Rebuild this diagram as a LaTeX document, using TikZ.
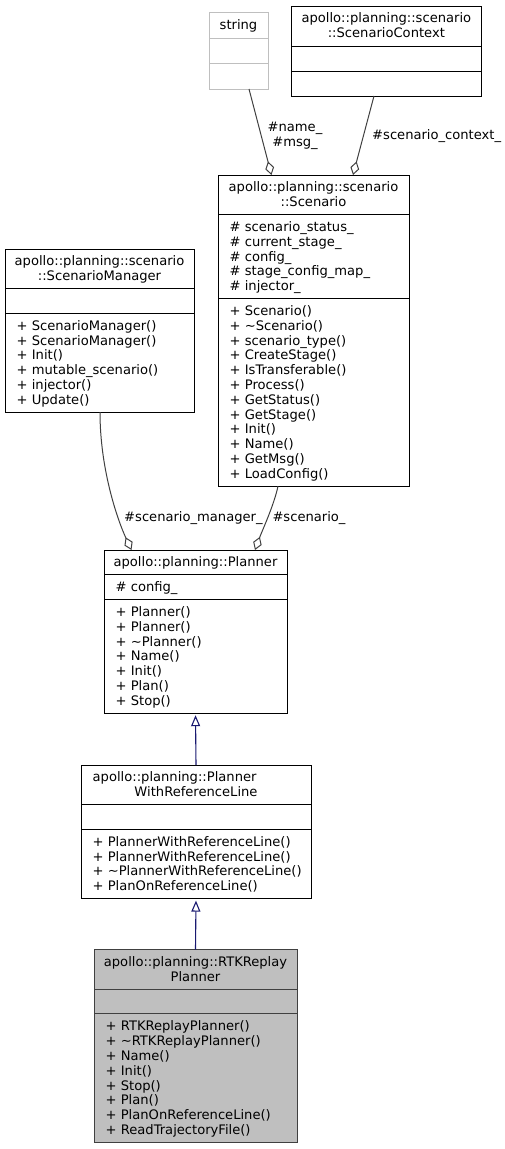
\documentclass[tikz,border=0pt]{standalone}
\usepackage{fontspec}
\setmainfont{DejaVu Sans}
\usepackage{tikz}
\usetikzlibrary{arrows.meta}
\definecolor{dxUse}{HTML}{404040}
\definecolor{dxBase}{HTML}{191970}
\definecolor{dxExtern}{HTML}{BFBFBF}
\definecolor{dxCurrent}{HTML}{BFBFBF}
\definecolor{dxCurrentLine}{HTML}{404040}
\tikzset{
  dx diagram/.style={font=\fontsize{13.1}{14.8}\selectfont, text=black},
  dx class/.style={draw=black, fill=white, line width=1pt,
    inner sep=0pt, outer sep=0pt},
  dx extern/.style={dx class, draw=dxExtern},
  dx current/.style={dx class, draw=dxCurrentLine, fill=dxCurrent},
  dx sep/.style={line width=1pt},
  dx text/.style={inner sep=0pt, anchor=base west},
  dx head/.style={inner sep=0pt, anchor=base},
  dx usage/.style={-{Diamond[open,length=14pt,width=9pt]}, draw=dxUse,
    line width=1pt},
  dx inherit/.style={-{Triangle[open,length=11pt,width=9pt]}, draw=dxBase,
    line width=1.1pt, shorten >=2pt},
  dx label/.style={inner sep=0pt}
}

\begin{document}
\begin{tikzpicture}[dx diagram,x=1pt,y=-1pt]
\useasboundingbox (0,0) rectangle (505,1149);

% string
\node[dx extern,minimum width=59pt,minimum height=76.3pt] (str) at (238.5,50.85) {};
\draw[dx sep,dxExtern] (str.west |- 0,38.3) -- (str.east |- 0,38.3);
\draw[dx sep,dxExtern] (str.west |- 0,63.3) -- (str.east |- 0,63.3);
\node[dx head] (str-h) at (238.5,29.6) {string};

% ScenarioContext
\node[dx class,minimum width=189.3pt,minimum height=90pt] (ctx) at (386.35,51) {};
\draw[dx sep] (ctx.west |- 0,46) -- (ctx.east |- 0,46);
\draw[dx sep] (ctx.west |- 0,71) -- (ctx.east |- 0,71);
\node[dx head] (ctx-h1) at (386.35,22.9) {apollo::planning::scenario};
\node[dx head] (ctx-h2) at (386.35,37.7) {::ScenarioContext};

% Scenario
\node[dx class,minimum width=191pt,minimum height=311.2pt] (scen) at (313.5,330.6) {};
\draw[dx sep] (scen.west |- 0,214.6) -- (scen.east |- 0,214.6);
\draw[dx sep] (scen.west |- 0,298.6) -- (scen.east |- 0,298.6);
\node[dx head] (scen-h1) at (313.5,191.9) {apollo::planning::scenario};
\node[dx head] (scen-h2) at (313.5,206.7) {::Scenario};
\foreach \a [count=\i] in {scenario\_status\_, current\_stage\_, config\_,
    stage\_config\_map\_, injector\_}
  \node[dx text] (scen-a\i) at (229.5,231.5+14.8*\i-14.8) {\# \a};
\foreach \m [count=\i] in {Scenario(), \textasciitilde Scenario(), scenario\_type(),
    CreateStage(), IsTransferable(), Process(), GetStatus(), GetStage(),
    Init(), Name(), GetMsg(), LoadConfig()}
  \node[dx text] (scen-m\i) at (229.5,315.5+14.8*\i-14.8) {+ \m};

% ScenarioManager
\node[dx class,minimum width=189pt,minimum height=163.2pt] (mgr) at (99.5,330.6) {};
\draw[dx sep] (mgr.west |- 0,288.6) -- (mgr.east |- 0,288.6);
\draw[dx sep] (mgr.west |- 0,313.4) -- (mgr.east |- 0,313.4);
\node[dx head] (mgr-h1) at (99.5,265.9) {apollo::planning::scenario};
\node[dx head] (mgr-h2) at (99.5,280.7) {::ScenarioManager};
\foreach \m [count=\i] in {ScenarioManager(), ScenarioManager(), Init(),
    mutable\_scenario(), injector(), Update()}
  \node[dx text] (mgr-m\i) at (16.5,330.3+14.8*\i-14.8) {+ \m};

% Planner
\node[dx class,minimum width=183pt,minimum height=163.2pt] (plan) at (195.5,631.6) {};
\draw[dx sep] (plan.west |- 0,574.8) -- (plan.east |- 0,574.8);
\draw[dx sep] (plan.west |- 0,599.6) -- (plan.east |- 0,599.6);
\node[dx head] (plan-h) at (195.5,566.9) {apollo::planning::Planner};
\node[dx text] (plan-a1) at (115.5,591.7) {\# config\_};
\foreach \m [count=\i] in {Planner(), Planner(), \textasciitilde Planner(), Name(),
    Init(), Plan(), Stop()}
  \node[dx text] (plan-m\i) at (115.5,616.5+14.8*\i-14.8) {+ \m};

% PlannerWithReferenceLine
\node[dx class,minimum width=230pt,minimum height=133.6pt] (prl) at (196,831.8) {};
\draw[dx sep] (prl.west |- 0,804.6) -- (prl.east |- 0,804.6);
\draw[dx sep] (prl.west |- 0,829.4) -- (prl.east |- 0,829.4);
\node[dx text] (prl-h1) at (92.5,781.9) {apollo::planning::Planner};
\node[dx head] (prl-h2) at (196,796.7) {WithReferenceLine};
\foreach \m [count=\i] in {PlannerWithReferenceLine(), PlannerWithReferenceLine(),
    \textasciitilde PlannerWithReferenceLine(), PlanOnReferenceLine()}
  \node[dx text] (prl-m\i) at (92.5,846.3+14.8*\i-14.8) {+ \m};

% RTKReplayPlanner
\node[dx current,minimum width=203pt,minimum height=192.8pt] (rtk) at (195.5,1045.9) {};
\draw[dx sep,dxCurrentLine] (rtk.west |- 0,989.1) -- (rtk.east |- 0,989.1);
\draw[dx sep,dxCurrentLine] (rtk.west |- 0,1013.9) -- (rtk.east |- 0,1013.9);
\node[dx head] (rtk-h1) at (195.5,966.4) {apollo::planning::RTKReplay};
\node[dx head] (rtk-h2) at (195.5,981.2) {Planner};
\foreach \m [count=\i] in {RTKReplayPlanner(), \textasciitilde RTKReplayPlanner(), Name(),
    Init(), Stop(), Plan(), PlanOnReferenceLine(), ReadTrajectoryFile()}
  \node[dx text] (rtk-m\i) at (105.5,1030.8+14.8*\i-14.8) {+ \m};

% usage
\draw[dx usage] ([xshift=10.5pt]str.south) -- ([xshift=-42pt]scen.north);
\draw[dx usage] ([xshift=-12.35pt]ctx.south) -- ([xshift=39.5pt]scen.north);
\draw[dx usage] ([xshift=0.5pt]mgr.south) .. controls +(0,58) and +(-13.5,-29)
  .. ([xshift=-64pt]plan.north);
\draw[dx usage] ([xshift=-35.5pt]scen.south) .. controls +(-4,19) and +(7,-19)
  .. ([xshift=59.5pt]plan.north);
\node[dx label,align=center] (lbl-str) at (295,135.5) {\#name\_\\\#msg\_};
\node[dx label,anchor=base west] (lbl-ctx) at (372,139.5) {\#scenario\_context\_};
\node[dx label,anchor=base west] (lbl-mgr) at (124,521.5) {\#scenario\_manager\_};
\node[dx label,anchor=base west] (lbl-scen) at (272.3,521.5) {\#scenario\_};

% inheritance
\draw[dx inherit] (prl.north) -- (plan.south);
\draw[dx inherit] (rtk.north) -- (prl.south);
\end{tikzpicture}
\end{document}
